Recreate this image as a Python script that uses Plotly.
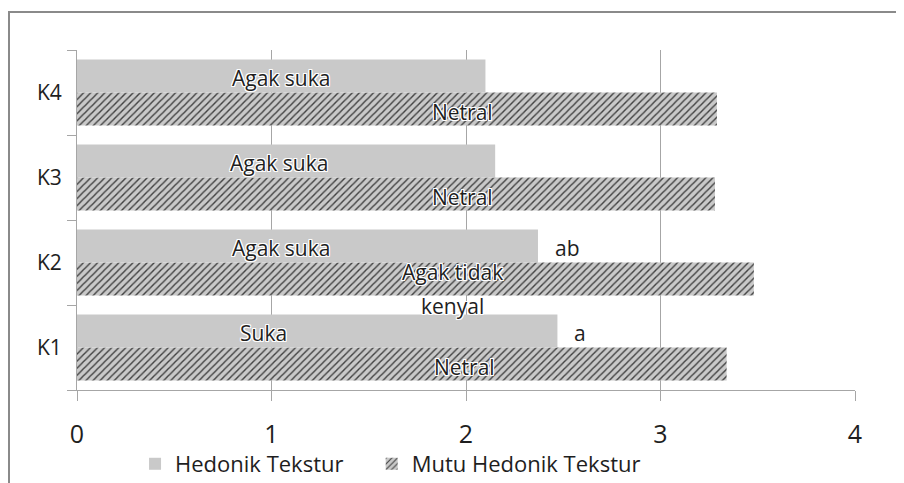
import plotly.graph_objects as go

# data (K1 at the bottom)
kelompok = ["K1", "K2", "K3", "K4"]
hedonik = [2.47, 2.37, 2.15, 2.10]
mutu_hedonik = [3.34, 3.48, 3.28, 3.29]
label_hedonik = ["Suka", "Agak suka", "Agak suka", "Agak suka"]
label_mutu = ["Netral", "Agak tidak<br>kenyal", "Netral", "Netral"]
notasi = ["a", "ab", "", ""]

# where the in-bar labels sit (x in axis units)
pos_label_hedonik = [0.96, 1.05, 1.04, 1.05]
pos_label_mutu = [1.99, 1.93, 1.98, 1.98]

FONT = "Open Sans"
GRAY = "#a6a6a6"
TEXT = "#1e1e1e"
HALO = ("-1px -1px 0 #fff, 1px -1px 0 #fff, -1px 1px 0 #fff, 1px 1px 0 #fff, "
        "0 -1px 0 #fff, 0 1px 0 #fff, -1px 0 0 #fff, 1px 0 0 #fff")

fig = go.Figure()

# mutu goes in first so that it lands below the hedonik bar in each group
fig.add_trace(go.Bar(
    y=kelompok, x=mutu_hedonik, orientation="h",
    name="Mutu Hedonik Tekstur",
    marker=dict(
        color="#c9c9c9",
        line=dict(width=0),
        pattern=dict(shape="/", size=5, solidity=0.28,
                     fgcolor="#404040", bgcolor="#c9c9c9", fillmode="replace"),
    ),
    legend="legend2",
))
fig.add_trace(go.Bar(
    y=kelompok, x=hedonik, orientation="h",
    name="Hedonik Tekstur",
    marker=dict(color="#c9c9c9", line=dict(width=0)),
    legend="legend",
))

annotations = []
for i, k in enumerate(kelompok):
    annotations.append(dict(
        x=pos_label_hedonik[i], y=k, xref="x", yref="y",
        text=label_hedonik[i], showarrow=False, yshift=15,
        font=dict(family=FONT, size=21, color=TEXT, shadow=HALO),
    ))
    lines = label_mutu[i].split("<br>")
    center = -19 - 7 * (len(lines) - 1)
    for j, line in enumerate(lines):
        annotations.append(dict(
            x=pos_label_mutu[i], y=k, xref="x", yref="y",
            text=line, showarrow=False,
            yshift=center + 17 * (len(lines) - 1) - 34 * j,
            font=dict(family=FONT, size=21, color=TEXT, shadow=HALO),
        ))
    if notasi[i]:
        annotations.append(dict(
            x=hedonik[i], y=k, xref="x", yref="y",
            text=notasi[i], showarrow=False, xanchor="left",
            xshift=15, yshift=15,
            font=dict(family=FONT, size=21, color=TEXT),
        ))

legend_style = dict(
    orientation="h", xanchor="left", y=-0.2176, yanchor="middle",
    font=dict(family=FONT, size=22, color=TEXT),
    bgcolor="rgba(0,0,0,0)",
)

# the page adds an 8px body margin, so the figure is shifted by 8px
fig.update_layout(
    width=896, height=475,
    margin=dict(l=69, r=49, t=42, b=93, autoexpand=False),
    paper_bgcolor="white", plot_bgcolor="white",
    barmode="group", bargap=0.224, bargroupgap=0,
    font=dict(family=FONT, color=TEXT),
    showlegend=True,
    legend=dict(x=0.0746, **legend_style),
    legend2=dict(x=0.3788, **legend_style),
    annotations=annotations,
    shapes=[dict(
        type="rect", xref="paper", yref="paper",
        x0=-0.0874, x1=1.08, y0=-0.32, y1=1.1118,
        line=dict(color="#8a8a8a", width=2), layer="below",
    )],
)

fig.update_xaxes(
    range=[0, 4], tickvals=[0, 1, 2, 3, 4],
    showgrid=True, gridcolor=GRAY, gridwidth=1,
    zeroline=False,
    showline=True, linecolor=GRAY, linewidth=1,
    ticks="outside", ticklen=10, tickcolor=GRAY,
    ticklabelstandoff=12, automargin=False,
    tickfont=dict(family=FONT, size=25, color=TEXT),
)
fig.update_yaxes(
    categoryorder="array", categoryarray=kelompok,
    showgrid=False, zeroline=False,
    showline=True, linecolor=GRAY, linewidth=1,
    ticks="outside", ticklen=9, tickcolor=GRAY, tickson="boundaries",
    ticklabelstandoff=10, automargin=False,
    tickfont=dict(family=FONT, size=21, color=TEXT),
)

fig.write_html("out.html")
